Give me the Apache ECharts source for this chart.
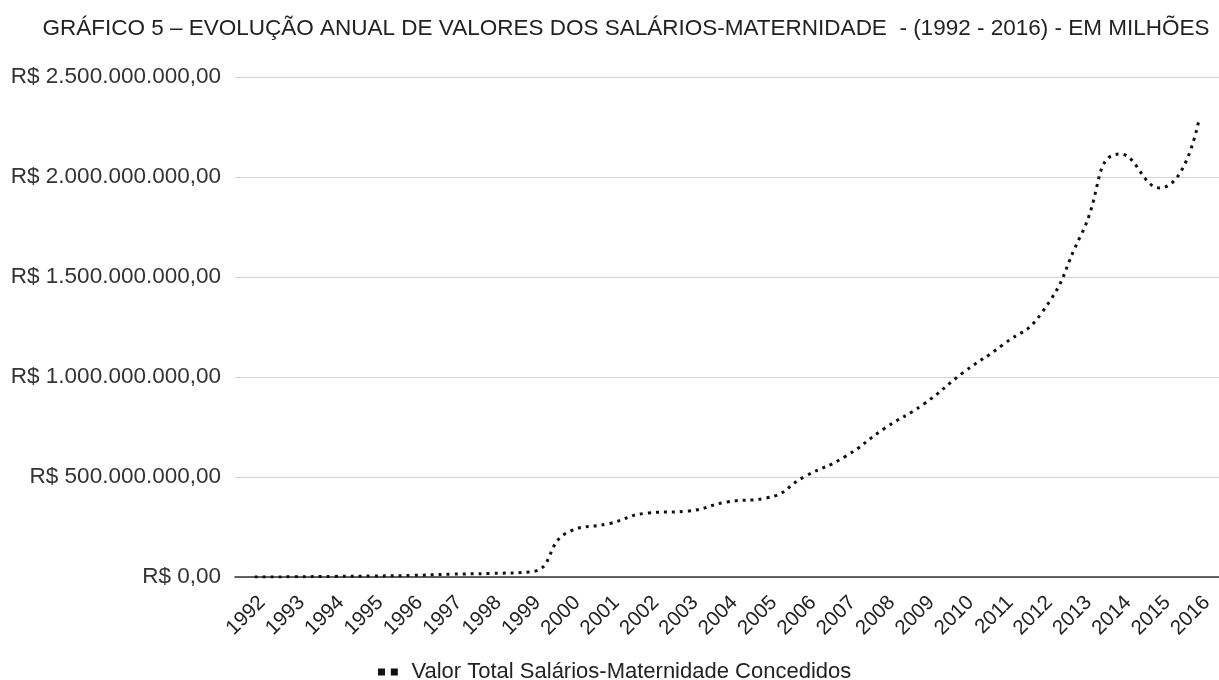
<!DOCTYPE html>
<html>
<head>
<meta charset="utf-8">
<script src="https://cdn.jsdelivr.net/npm/echarts@6/dist/echarts.min.js"></script>
<style>
  html, body { margin: 0; padding: 0; background: #fff; }
  #echart { width: 1219px; height: 680px; }
</style>
</head>
<body>
<div id="echart"></div>
<script>
// anos e valores
var anos = ["1992", "1993", "1994", "1995", "1996", "1997", "1998", "1999", "2000",
  "2001", "2002", "2003", "2004", "2005", "2006", "2007", "2008", "2009", "2010",
  "2011", "2012", "2013", "2014", "2015", "2016"];
var valores = [0, 1e6, 3e6, 5e6, 8e6, 14e6, 18e6, 25e6, 228e6,
  267e6, 320e6, 330e6, 375e6, 395e6, 505e6, 602e6, 743e6, 865e6, 1022e6,
  1160e6, 1322e6, 1712e6, 2115e6, 1945e6, 2295e6];
var nomeSerie = "Valor Total Salários-Maternidade Concedidos";
var titulo = "GRÁFICO 5 – EVOLUÇÃO ANUAL DE VALORES DOS SALÁRIOS-MATERNIDADE  - (1992 - 2016) - EM MILHÕES";

var fonte = "'Liberation Sans', Arial, sans-serif";

function formataReal(v) {
  var s = String(Math.round(v)).replace(/\B(?=(\d{3})+(?!\d))/g, ".");
  return "R$ " + s + ",00";
}

var myChart = echarts.init(document.getElementById("echart"));
var option = {
  animation: false,
  backgroundColor: "#fff",
  title: {
    text: titulo,
    left: 621,
    textAlign: "center",
    top: 12,
    textStyle: { color: "#222", fontWeight: "normal", fontSize: 22.5, fontFamily: fonte }
  },
  legend: {
    top: 656,
    left: 373,
    icon: "path://M0,0h6v6h-6z M11,0h6v6h-6z",
    itemWidth: 21,
    itemHeight: 7,
    textStyle: { color: "#222", fontSize: 22, fontFamily: fonte, padding: [0, 0, 0, 8] },
    data: [nomeSerie]
  },
  grid: { left: 235, top: 77, width: 987, height: 500, containLabel: false },
  xAxis: {
    type: "category",
    data: anos,
    boundaryGap: true,
    axisLine: { lineStyle: { color: "#333", width: 1.5 } },
    axisTick: { show: false },
    axisLabel: {
      interval: 0,
      rotate: 45,
      verticalAlign: "top",
      margin: 15,
      color: "#222",
      fontSize: 20.5,
      fontFamily: fonte
    }
  },
  yAxis: {
    type: "value",
    min: 0,
    max: 2500000000,
    interval: 500000000,
    axisLine: { show: false },
    axisTick: { show: false },
    splitLine: { lineStyle: { color: "#d4d4d4", width: 1 } },
    axisLabel: {
      margin: 14,
      color: "#333",
      fontSize: 22.5,
      fontFamily: fonte,
      formatter: function (v) {
        return v === 0 ? "R$ 0,00" : formataReal(v);
      }
    }
  },
  series: [
    {
      name: nomeSerie,
      type: "line",
      data: valores,
      smooth: 0.55,
      showSymbol: false,
      color: "#111",
      lineStyle: { color: "#111", width: 3, type: [3, 5], cap: "butt" }
    }
  ]
};
myChart.setOption(option);
</script>
</body>
</html>
